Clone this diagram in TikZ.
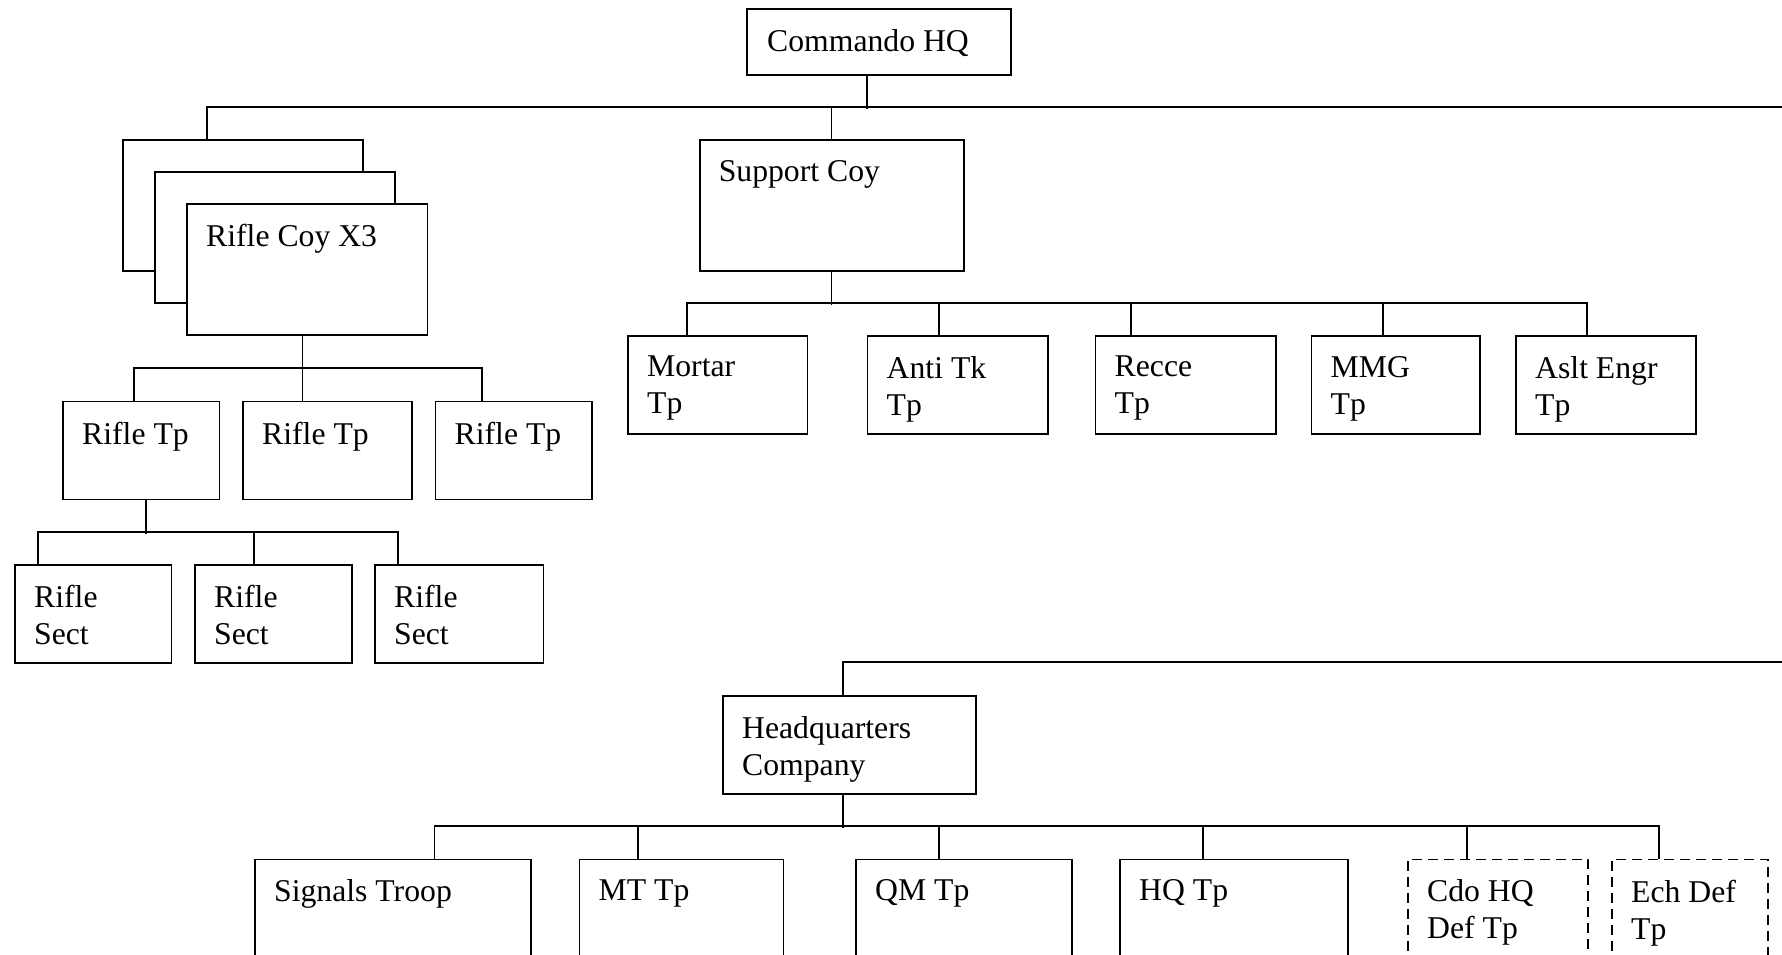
\documentclass[tikz,border=0pt]{standalone}
\usepackage{fontspec}
\setmainfont{Liberation Serif}

\tikzset{
  box/.style={draw, line width=1.9pt, fill=white, anchor=north west, inner sep=0pt},
  dbox/.style={box, dash pattern=on 10pt off 6pt},
  lbl/.style={anchor=north west, inner sep=0pt, align=left, font=\fontsize{31.7}{37}\selectfont},
  link/.style={line width=1.7pt}
}

\begin{document}
\begin{tikzpicture}[x=1pt, y=-1pt]
\useasboundingbox (0,0) rectangle (1782,955);
\clip (0,0) rectangle (1782,955);

% commando HQ
\node[box, minimum width=264, minimum height=66] (hq) at (746,8) {};
\node[lbl] (hq-l) at ([shift={(21,21)}]hq.north west) {Commando HQ};
\coordinate (edge1) at (1782,107);
\coordinate (edge2) at (1782,662);

% rifle coys (stacked)
\node[box, minimum width=240, minimum height=131] (coyA) at (122,139) {};
\node[box, minimum width=240, minimum height=131] (coyB) at (154,171) {};
\node[box, minimum width=240.5, minimum height=131] (coyC) at (186,203) {};
\node[lbl] (coyC-l) at ([shift={(20,21)}]coyC.north west) {Rifle Coy X3};

% support coy
\node[box, minimum width=264, minimum height=131] (sup) at (698.6,139) {};
\node[lbl] (sup-l) at ([shift={(20,21)}]sup.north west) {Support Coy};

\node[box, minimum width=179.5, minimum height=98] (mortar) at (627,335) {};
\node[lbl] (mortar-l) at ([shift={(20,21)}]mortar.north west) {Mortar\\Tp};
\node[box, minimum width=180.5, minimum height=98] (antitk) at (866.5,335) {};
\node[lbl] (antitk-l) at ([shift={(20,21)}]antitk.north west) {Anti Tk\\Tp};
\node[box, minimum width=180.5, minimum height=98] (recce) at (1094.5,335) {};
\node[lbl] (recce-l) at ([shift={(20,21)}]recce.north west) {Recce\\Tp};
\node[box, minimum width=168.5, minimum height=98] (mmg) at (1310.5,335) {};
\node[lbl] (mmg-l) at ([shift={(20,21)}]mmg.north west) {MMG\\Tp};
\node[box, minimum width=180, minimum height=98] (aslt) at (1515,335) {};
\node[lbl] (aslt-l) at ([shift={(20,21)}]aslt.north west) {Aslt Engr\\Tp};

% rifle troops and sections
\node[box, minimum width=156.5, minimum height=98] (tp1) at (62,400.5) {};
\node[lbl] (tp1-l) at ([shift={(20,21)}]tp1.north west) {Rifle Tp};
\node[box, minimum width=169, minimum height=98] (tp2) at (242,400.5) {};
\node[lbl] (tp2-l) at ([shift={(20,21)}]tp2.north west) {Rifle Tp};
\node[box, minimum width=156.5, minimum height=98] (tp3) at (434.5,400.5) {};
\node[lbl] (tp3-l) at ([shift={(20,21)}]tp3.north west) {Rifle Tp};

\node[box, minimum width=156.5, minimum height=98] (s1) at (14,564) {};
\node[lbl] (s1-l) at ([shift={(20,21)}]s1.north west) {Rifle\\Sect};
\node[box, minimum width=157, minimum height=98] (s2) at (194,564) {};
\node[lbl] (s2-l) at ([shift={(20,21)}]s2.north west) {Rifle\\Sect};
\node[box, minimum width=168.5, minimum height=98] (s3) at (374,564) {};
\node[lbl] (s3-l) at ([shift={(20,21)}]s3.north west) {Rifle\\Sect};

% headquarters company
\node[box, minimum width=253, minimum height=98] (hqcoy) at (722,695) {};
\node[lbl] (hqcoy-l) at ([shift={(20,21)}]hqcoy.north west) {Headquarters\\Company};

\node[box, minimum width=276, minimum height=150] (sig) at (254,858.5) {};
\node[lbl] (sig-l) at ([shift={(20,21)}]sig.north west) {Signals Troop};
\node[box, minimum width=204, minimum height=150] (mt) at (578.5,858.5) {};
\node[lbl] (mt-l) at ([shift={(20,21)}]mt.north west) {MT Tp};
\node[box, minimum width=216, minimum height=150] (qm) at (855,858.5) {};
\node[lbl] (qm-l) at ([shift={(20,21)}]qm.north west) {QM Tp};
\node[box, minimum width=228, minimum height=150] (hqtp) at (1119,858.5) {};
\node[lbl] (hqtp-l) at ([shift={(20,21)}]hqtp.north west) {HQ Tp};
\node[dbox, minimum width=180, minimum height=150] (cdo) at (1407,858.5) {};
\node[lbl] (cdo-l) at ([shift={(20,21)}]cdo.north west) {Cdo HQ\\Def Tp};
\node[dbox, minimum width=156, minimum height=150] (ech) at (1611,858.5) {};
\node[lbl] (ech-l) at ([shift={(20,21)}]ech.north west) {Ech Def\\Tp};

% connectors
\draw[link] ([xshift=-12pt]hq.south) -- +(0,33);
\draw[link] ([xshift=85pt]coyA.north west) |- (edge1);
\draw[link] (sup.north) -- +(0,-32);

\draw[link] (sup.south) -- +(0,33);
\draw[link] ([xshift=60pt]mortar.north west) -- +(0,-32) -| ([xshift=72pt]aslt.north west);
\draw[link] ([xshift=72.5pt]antitk.north west) -- +(0,-32);
\draw[link] ([xshift=36.5pt]recce.north west) -- +(0,-32);
\draw[link] ([xshift=72.5pt]mmg.north west) -- +(0,-32);

\draw[link] ([xshift=116.5pt]coyC.south west) -- ([xshift=60.5pt]tp2.north west);
\draw[link] ([xshift=72pt]tp1.north west) -- +(0,-32.5) -| ([xshift=47.5pt]tp3.north west);

\draw[link] ([xshift=84pt]tp1.south west) -- +(0,33.5);
\draw[link] ([xshift=24pt]s1.north west) -- +(0,-32) -| ([xshift=24pt]s3.north west);
\draw[link] ([xshift=60pt]s2.north west) -- +(0,-32);

\draw[link] ([xshift=121pt]hqcoy.north west) |- (edge2);
\draw[link] ([xshift=121pt]hqcoy.south west) -- +(0,33);
\draw[link] ([xshift=180.5pt]sig.north west) -- +(0,-32.5) -| ([xshift=48pt]ech.north west);
\draw[link] ([xshift=59.5pt]mt.north west) -- +(0,-32.5);
\draw[link] ([xshift=84pt]qm.north west) -- +(0,-32.5);
\draw[link] ([xshift=84pt]hqtp.north west) -- +(0,-32.5);
\draw[link] ([xshift=60pt]cdo.north west) -- +(0,-32.5);
\end{tikzpicture}
\end{document}
